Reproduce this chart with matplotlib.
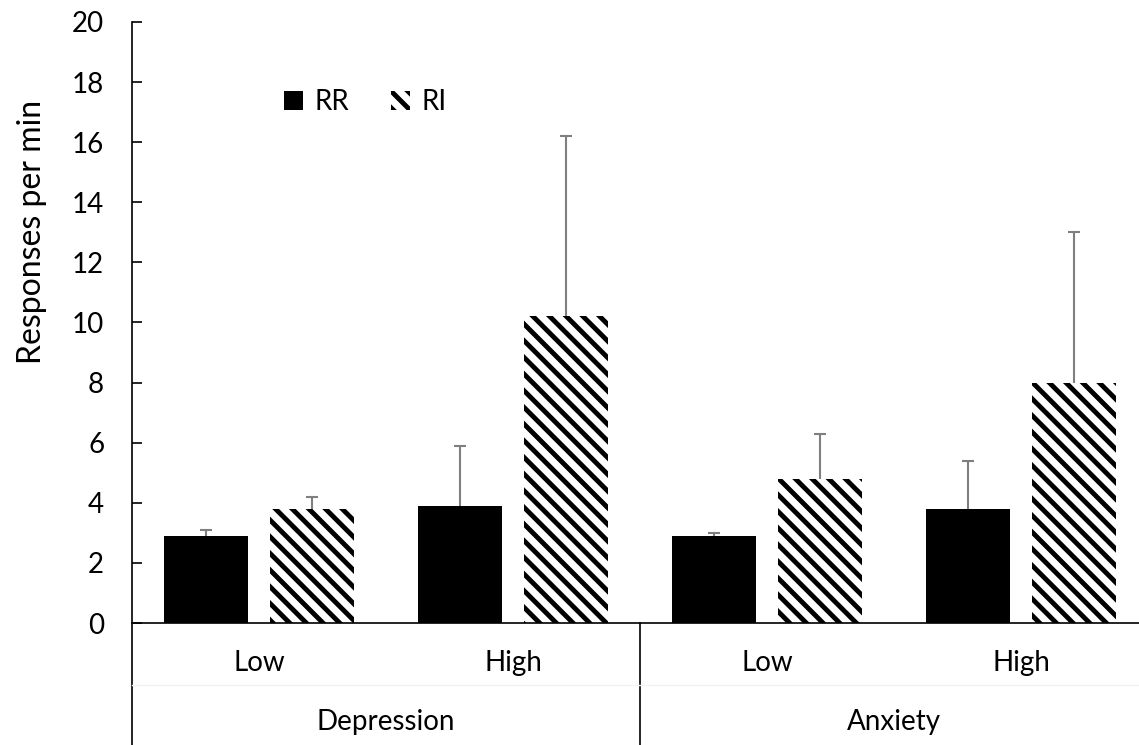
import numpy as np
import matplotlib.pyplot as plt
from matplotlib.patches import Patch

plt.rcParams['font.family'] = ['Lato', 'DejaVu Sans']
plt.rcParams['hatch.linewidth'] = 3.5

groups = ['Depression', 'Anxiety']
levels = ['Low', 'High', 'Low', 'High']
rr_mean = [2.9, 3.9, 2.9, 3.8]
rr_err = [0.2, 2.0, 0.1, 1.6]
ri_mean = [3.8, 10.2, 4.8, 8.0]
ri_err = [0.4, 6.0, 1.5, 5.0]

W, H = 1139, 745
fig = plt.figure(figsize=(W / 100, H / 100), dpi=100)
# plot area: y axis at x=132px, zero line at y=623px, top at y=22px
ax = fig.add_axes([132 / W, 122 / H, 1016 / W, 601 / H])

x = np.arange(len(levels))
bw = 0.33
off = 0.21
err_kw = dict(ecolor='#7f7f7f', elinewidth=1.5, capsize=4.3, capthick=1.5)

b1 = ax.bar(x - off, rr_mean, bw, color='black', linewidth=0,
            yerr=[np.zeros(4), rr_err], error_kw=err_kw, zorder=2)
b2 = ax.bar(x + off, ri_mean, bw, color='white', edgecolor='black',
            linewidth=0, hatch='\\\\', yerr=[np.zeros(4), ri_err],
            error_kw=err_kw, zorder=2)
# only the upper cap is wanted
for b in (b1, b2):
    b.errorbar.lines[1][0].set_visible(False)

ax.set_xlim(-0.5, 3.5)
ax.set_ylim(0, 20)
ax.set_yticks(np.arange(0, 21, 2))
ax.tick_params(axis='y', direction='in', length=7.5, width=1.2, pad=20,
               labelsize=20)
ax.set_xticks([])
for s in ['top', 'right']:
    ax.spines[s].set_visible(False)
ax.spines['left'].set_visible(False)
ax.spines['bottom'].set_linewidth(1.2)

# category table under the axis
ybot = -122 / 601
tr = ax.get_xaxis_transform()
for xv in [-0.5, 1.5, 3.5]:
    ax.plot([xv, xv], [ybot, 0 if xv != -0.5 else 1], color='black', lw=1.2,
            transform=tr, clip_on=False)
ax.plot([-0.5, 3.5], [-62 / 601, -62 / 601], color='#f2f2f2', lw=1,
        transform=tr, clip_on=False)
for xi, lv in zip(x, levels):
    ax.text(xi, -40 / 601, lv, transform=tr, ha='center', va='center',
            fontsize=20)
for gi, g in enumerate(groups):
    ax.text(gi * 2 + 0.5, -99 / 601, g, transform=tr, ha='center',
            va='center', fontsize=20)

fig.text(32 / W, 1 - 232 / H, 'Responses per min', rotation=90,
         ha='center', va='center', fontsize=23)

handles = [Patch(facecolor='black', edgecolor='black', linewidth=0),
           Patch(facecolor='white', edgecolor='black', linewidth=0,
                 hatch='\\\\')]
fig.legend(handles, ['RR', 'RI'], ncol=2, frameon=False, fontsize=20,
           loc='center left', bbox_to_anchor=(284 / W, 1 - 102 / H),
           borderpad=0, borderaxespad=0, handlelength=0.7, handleheight=0.7,
           handletextpad=0.4, columnspacing=1.5)

fig.savefig('out.png', dpi=100)
